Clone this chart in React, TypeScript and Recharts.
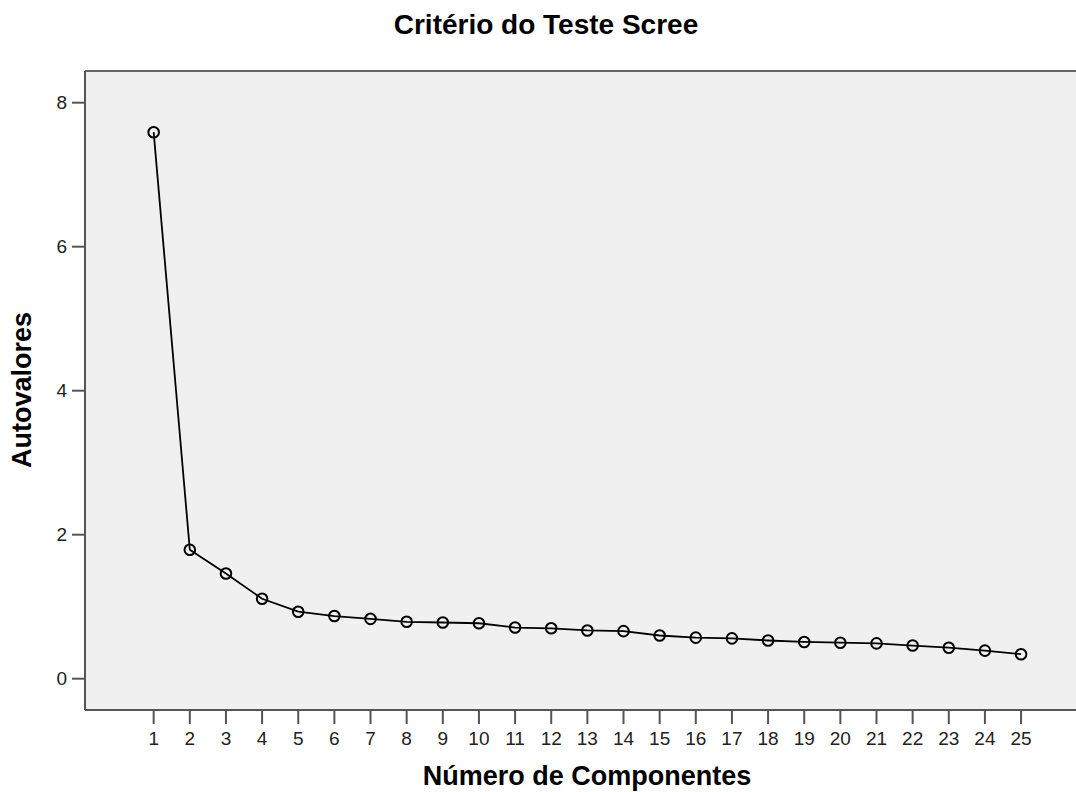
import { LineChart, Line, XAxis, YAxis, CartesianGrid, ReferenceLine } from "recharts";

const components = [1, 2, 3, 4, 5, 6, 7, 8, 9, 10, 11, 12, 13, 14, 15, 16, 17, 18, 19, 20, 21, 22, 23, 24, 25];
const eigenvalues = [
    7.59, 1.79, 1.46, 1.11, 0.93, 0.87, 0.83, 0.79, 0.78, 0.77,
    0.71, 0.70, 0.67, 0.66, 0.60, 0.57, 0.56, 0.53, 0.51, 0.50,
    0.49, 0.46, 0.43, 0.39, 0.34,
];
const yTicks = [0, 2, 4, 6, 8];

const data = components.map((c, i) => ({ comp: c, value: eigenvalues[i] }));

const Y_MIN = -0.435;
const Y_MAX = 8.44;
const X_MIN = -0.9;
const X_MAX = 26.52;

const font = "'Liberation Sans', Arial, sans-serif";

export default function App() {
    return (
        <div style={{ position: "absolute", left: 0, top: 0, width: 1076, height: 792, background: "#fff", fontFamily: font, overflow: "hidden" }}>
            <div style={{ position: "absolute", left: 246, width: 600, top: 9, textAlign: "center", fontSize: 28, fontWeight: "bold", color: "#000" }}>
                Critério do Teste Scree
            </div>

            <LineChart width={1076} height={792} data={data} margin={{ top: 71, right: 0, left: 0, bottom: 0 }}>
                <CartesianGrid horizontal={false} vertical={false} fill="#F0F0F0" />
                <XAxis
                    dataKey="comp"
                    type="number"
                    domain={[X_MIN, X_MAX]}
                    allowDataOverflow
                    ticks={components}
                    interval={0}
                    height={82}
                    stroke="#555"
                    strokeWidth={2}
                    tickSize={14}
                    tickMargin={8}
                    tick={{ fill: "#222", fontSize: 19, fontFamily: font }}
                />
                <YAxis
                    type="number"
                    domain={[Y_MIN, Y_MAX]}
                    allowDataOverflow
                    ticks={yTicks}
                    width={85}
                    stroke="#555"
                    strokeWidth={2}
                    tickSize={13}
                    tickMargin={5}
                    tick={{ fill: "#222", fontSize: 19, fontFamily: font }}
                />
                <ReferenceLine y={Y_MAX} stroke="#666" strokeWidth={2} />
                <Line
                    dataKey="value"
                    stroke="#000"
                    strokeWidth={1.8}
                    isAnimationActive={false}
                    dot={{ r: 5.3, stroke: "#000", strokeWidth: 2, fill: "none" }}
                    activeDot={false}
                />
            </LineChart>

            <div style={{ position: "absolute", left: 287, width: 600, top: 761, textAlign: "center", fontSize: 27, fontWeight: "bold", color: "#000", whiteSpace: "nowrap" }}>
                Número de Componentes
            </div>
            <div
                style={{
                    position: "absolute",
                    left: 22,
                    top: 390,
                    transform: "translate(-50%, -50%) rotate(-90deg)",
                    whiteSpace: "nowrap",
                    fontSize: 27,
                    fontWeight: "bold",
                    color: "#000",
                }}
            >
                Autovalores
            </div>
        </div>
    );
}
